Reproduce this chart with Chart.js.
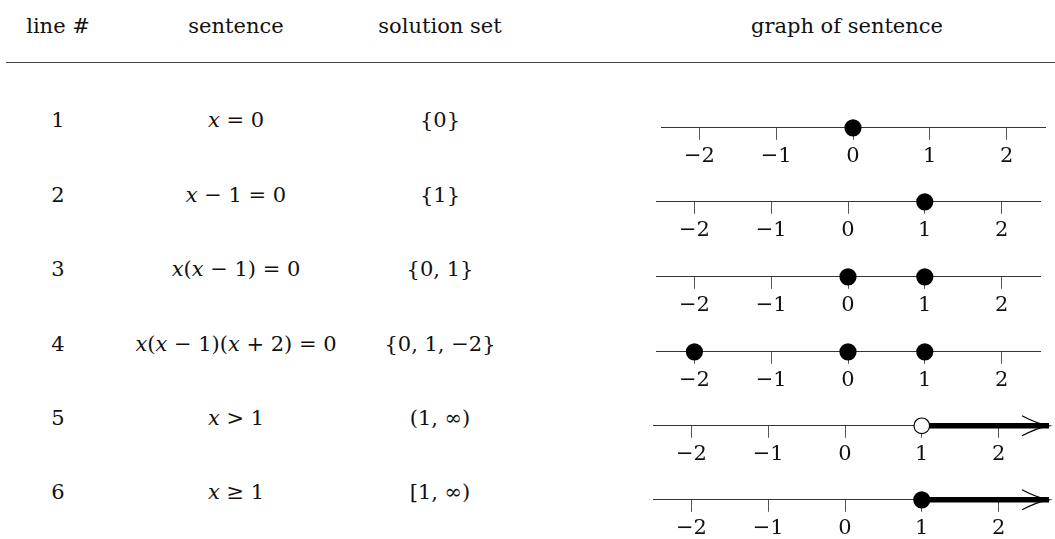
<!DOCTYPE html>
<html>
<head>
    <title>Solution sets on the number line</title>
    <script src="https://cdn.jsdelivr.net/npm/chart.js"></script>
    <style>
        body { margin: 0; background: #fff; }
        #page { position: relative; width: 1055px; height: 539px; overflow: hidden;
                font-family: 'DejaVu Serif', serif; font-size: 21px; color: #111; }
        .cell { position: absolute; width: 300px; margin-left: -150px; text-align: center;
                line-height: 30px; height: 30px; white-space: nowrap; }
        .cell i { font-style: italic; }
        #rule { position: absolute; left: 6px; right: 0; top: 62px; border-top: 1px solid #444; }
        canvas { position: absolute; }
    </style>
</head>
<body>
<div id="page">
    <div id="rule"></div>
</div>
<script>
    // table contents
    var headers = ['line #', 'sentence', 'solution set', 'graph of sentence'];
    var lineNumbers = ['1', '2', '3', '4', '5', '6'];
    var sentences = ['x = 0', 'x \u2212 1 = 0', 'x(x \u2212 1) = 0', 'x(x \u2212 1)(x + 2) = 0', 'x > 1', 'x \u2265 1'];
    var solutionSets = ['{0}', '{1}', '{0, 1}', '{0, 1, \u22122}', '(1, \u221e)', '[1, \u221e)'];

    // number line data
    var tickValues = [-2, -1, 0, 1, 2];
    var closedPoints = [[0], [1], [0, 1], [-2, 0, 1], [], [1]];
    var openPoints = [[], [], [], [], [1], []];
    var rayStarts = [null, null, null, null, 1, 1];
    var axisMin = -2.5, axisMax = 2.5;

    // layout
    var columnX = [58, 236, 440, 847];
    var headerY = 26;
    var lineY = [127.5, 202, 276.5, 351.5, 425.5, 499.5];
    var rowLeft = [660.5, 655.5, 655.5, 655.5, 653, 653];
    var unitPx = 76.8;
    var arrowPx = 12;

    var page = document.getElementById('page');

    function addCell(text, x, yCenter, italicX) {
        var d = document.createElement('div');
        d.className = 'cell';
        d.style.left = x + 'px';
        d.style.top = (yCenter - 15) + 'px';
        if (italicX) {
            d.innerHTML = text.replace(/&/g, '&amp;').replace(/</g, '&lt;').replace(/>/g, '&gt;')
                .replace(/x/g, '<i>x</i>');
        } else {
            d.textContent = text;
        }
        page.appendChild(d);
    }

    headers.forEach(function (h, i) { addCell(h, columnX[i], headerY, false); });
    for (var r = 0; r < lineNumbers.length; r++) {
        var cy = lineY[r] - 7.3;
        addCell(lineNumbers[r], columnX[0], cy, false);
        addCell(sentences[r], columnX[1], cy, true);
        addCell(solutionSets[r], columnX[2], cy, false);
    }

    // open chevron at the end of a ray
    var arrowHead = {
        id: 'arrowHead',
        afterDatasetsDraw: function (chart) {
            chart.data.datasets.forEach(function (ds, i) {
                if (!ds.isRay) return;
                var pts = chart.getDatasetMeta(i).data;
                var tip = pts[pts.length - 1];
                var c = chart.ctx;
                c.save();
                c.strokeStyle = '#000';
                c.lineWidth = 1.3;
                c.beginPath();
                c.moveTo(tip.x - 27, tip.y - 10);
                c.quadraticCurveTo(tip.x - 12, tip.y - 2, tip.x, tip.y);
                c.quadraticCurveTo(tip.x - 12, tip.y + 2, tip.x - 27, tip.y + 10);
                c.stroke();
                c.restore();
            });
        }
    };

    var plotWidth = Math.round(unitPx * (axisMax - axisMin));

    for (var r = 0; r < lineNumbers.length; r++) {
        var canvas = document.createElement('canvas');
        canvas.width = plotWidth + arrowPx + 4;
        canvas.height = 130;
        canvas.style.width = canvas.width + 'px';
        canvas.style.height = canvas.height + 'px';
        canvas.style.left = rowLeft[r] + 'px';
        canvas.style.top = (lineY[r] - 80) + 'px';
        page.appendChild(canvas);

        var datasets = [];
        datasets.push({
            data: openPoints[r].map(function (v) { return { x: v, y: 0 }; }),
            pointRadius: 7.8, pointBackgroundColor: '#fff', pointBorderColor: '#000',
            pointBorderWidth: 1.2, clip: false
        });
        datasets.push({
            data: closedPoints[r].map(function (v) { return { x: v, y: 0 }; }),
            pointRadius: 8.6, pointBackgroundColor: '#000', pointBorderWidth: 0, clip: false
        });
        if (rayStarts[r] !== null) {
            datasets.push({
                isRay: true,
                type: 'line',
                data: [{ x: rayStarts[r], y: 0 }, { x: axisMax + arrowPx / unitPx, y: 0 }],
                borderColor: '#000', borderWidth: 5.5, borderCapStyle: 'butt',
                pointRadius: 0, clip: false
            });
        }

        var chart = new Chart(canvas.getContext('2d'), {
            type: 'scatter',
            data: { datasets: datasets },
            options: {
                responsive: false,
                animation: false,
                events: [],
                layout: { autoPadding: false, padding: { left: 0, right: arrowPx + 4, top: 0, bottom: 4 } },
                plugins: { legend: { display: false }, tooltip: { enabled: false } },
                scales: {
                    x: {
                        type: 'linear',
                        position: 'bottom',
                        min: axisMin,
                        max: axisMax,
                        afterBuildTicks: function (scale) {
                            scale.ticks = tickValues.map(function (v) { return { value: v }; });
                        },
                        border: { display: true, color: '#333', width: 1 },
                        grid: { drawOnChartArea: false, drawTicks: true, tickLength: 12, color: '#555', lineWidth: 1 },
                        ticks: {
                            autoSkip: false, maxRotation: 0, padding: 4, color: '#111',
                            font: { family: 'DejaVu Serif', size: 21 },
                            callback: function (v) { return v < 0 ? '\u2212' + Math.abs(v) : String(v); }
                        }
                    },
                    y: { display: false, min: 0, max: 1 }
                }
            },
            plugins: [arrowHead]
        });

        // put the axis line exactly on the row's line position
        canvas.style.top = (lineY[r] - chart.chartArea.bottom) + 'px';
        canvas.style.left = (rowLeft[r] - chart.chartArea.left) + 'px';
    }
</script>
</body>
</html>
